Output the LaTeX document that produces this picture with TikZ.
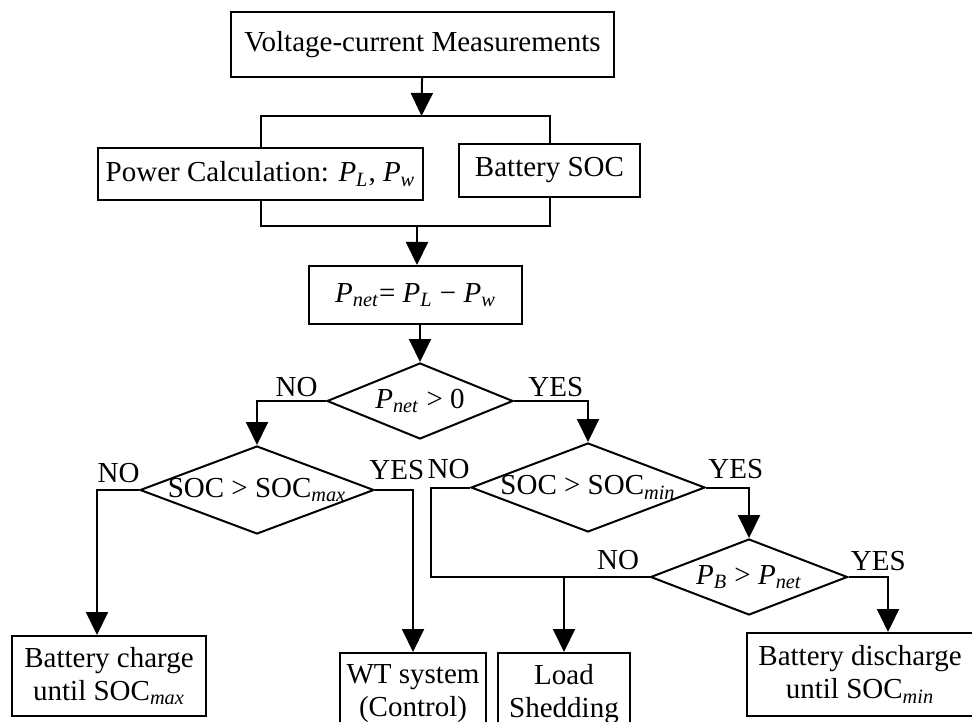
\documentclass[tikz,border=0pt]{standalone}
\usepackage{fontspec}
\setmainfont{Liberation Serif}
\usetikzlibrary{arrows.meta, shapes.geometric}
\newcommand{\sbi}[1]{\textsubscript{\textit{#1}}}

\begin{document}
\begin{tikzpicture}[x=0.5pt, y=-0.5pt,
    font=\fontsize{14.5}{16.5}\selectfont,
    box/.style={draw, line width=1pt, align=center, inner sep=0pt},
    dia/.style={diamond, draw, line width=1pt, inner sep=0pt},
    arr/.style={-{Triangle[length=11.5pt, width=11pt]}, line width=1pt},
    ln/.style={line width=1pt},
    lbl/.style={inner sep=1pt}
  ]
    \useasboundingbox (0,0) rectangle (972,721);
    \clip (0,0) rectangle (972,721);
    \node[box, minimum width=191.5pt, minimum height=32.5pt] (meas) at (422.5,44.5) {Voltage-current Measurements};
    \node[box, minimum width=162.5pt, minimum height=26pt] (power) at (260.5,174) {Power Calculation: \textit{P}\sbi{L}, \textit{P}\sbi{w}};
    \node[box, minimum width=90.5pt, minimum height=26.5pt] (soc) at (549.5,170.5) {Battery SOC};
    \node[box, minimum width=106.5pt, minimum height=29pt] (pnet) at (415.5,295) {\textit{P}\sbi{net}= \textit{P}\sbi{L} − \textit{P}\sbi{w}};
    \node[dia, minimum width=93pt, minimum height=38pt, label=center:{\textit{P}\sbi{net} > 0}] (d1) at (420,401) {};
    \node[dia, minimum width=117pt, minimum height=44pt, label=center:{SOC > SOC\sbi{max}}] (d2) at (257,490) {};
    \node[dia, minimum width=117pt, minimum height=44.5pt, label=center:{SOC > SOC\sbi{min}}] (d3) at (588,487.5) {};
    \node[dia, minimum width=98.5pt, minimum height=38pt, label=center:{\textit{P}\sbi{B} > \textit{P}\sbi{net}}] (d4) at (749,577) {};
    \node[box, minimum width=97pt, minimum height=40pt] (charge) at (109,676) {Battery charge\\until SOC\sbi{max}};
    \node[box, minimum width=73pt, minimum height=41pt] (wt) at (413,694) {WT system\\(Control)};
    \node[box, minimum width=66pt, minimum height=41pt] (load) at (564,694) {Load\\Shedding};
    \node[box, minimum width=113pt, minimum height=41.5pt] (dis) at (860,674.5) {Battery discharge\\until SOC\sbi{min}};
    \coordinate (split) at (421.5,116);
    \coordinate (join) at (417,226);
    \coordinate (cno) at (97,490);
    \coordinate (lsn) at (431,577);
    \coordinate (dyes) at (888,577);
    \node[lbl, anchor=south east, xshift=-3pt, yshift=1pt] (no1) at (d1.west) {NO};
    \node[lbl, anchor=south west, xshift=6pt, yshift=1pt] (yes1) at (d1.east) {YES};
    \node[lbl, anchor=south east, xshift=1.5pt, yshift=2.5pt] (no2) at (d2.west) {NO};
    \node[lbl, anchor=south west, xshift=-4pt, yshift=4pt] (yes2) at (d2.east) {YES};
    \node[lbl, anchor=south east, xshift=1pt, yshift=3pt] (no3) at (d3.west) {NO};
    \node[lbl, anchor=south west, yshift=3pt] (yes3) at (d3.east) {YES};
    \node[lbl, anchor=south east, xshift=-4pt, yshift=2.5pt] (no4) at (d4.west) {NO};
    \node[lbl, anchor=south west, yshift=2pt] (yes4) at (d4.east) {YES};
    \draw[arr] (meas) -- (split);
    \draw[ln] (power.north) |- (split) -| (soc.north);
    \draw[ln] (power.south) |- (join) -| (soc.south);
    \draw[arr] (join) -- (join |- pnet.north);
    \draw[arr] (d1.north |- pnet.south) -- (d1.north);
    \draw[arr] (d1.west) -| (d2.north);
    \draw[arr] (d1.east) -| (d3.north);
    \draw[arr] (d2.west) -- (cno) -- (cno |- charge.north);
    \draw[arr] (d2.east) -| (wt.north);
    \draw[ln] (d3.west) -| (lsn) -- (d4.west);
    \draw[arr] (load.north |- lsn) -- (load.north);
    \draw[arr] (d3.east) -| (d4.north);
    \draw[arr] (d4.east) -- (dyes) -- (dyes |- dis.north);
  \end{tikzpicture}
\end{document}
